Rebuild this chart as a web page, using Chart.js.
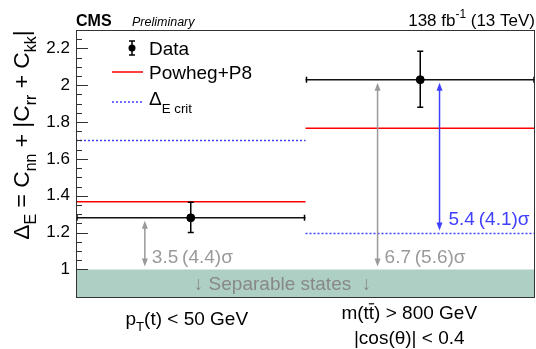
<!DOCTYPE html>
<html>
<head>
<meta charset="utf-8">
<script src="https://cdn.jsdelivr.net/npm/chart.js@4.4.1/dist/chart.umd.min.js"></script>
<style>
  body { margin: 0; background: #fff; }
  canvas { display: block; }
</style>
</head>
<body>
<canvas id="chart" width="536" height="349"></canvas>
<script>
// bins and values
const binEdges = [0, 1, 2];
const binLabels = [['p_{T}(t) < 50 GeV'], ['m(t#bar{t}) > 800 GeV', '|cos(θ)| < 0.4']];
const dataVals = [1.28, 2.03];
const dataErrUp = [0.085, 0.155];
const dataErrDown = [0.08, 0.15];
const powhegVals = [1.367, 1.767];
const critVals = [1.70, 1.195];
const separableLimit = 1.0;
const yTicks = [1, 1.2, 1.4, 1.6, 1.8, 2, 2.2];
const yMin = 0.85, yMax = 2.3;

// significance arrows: x in bin units, from/to in y units
const arrowX = [0.30, 1.314, 1.584];
const arrowFrom = [1.28, 2.03, 2.03];
const arrowTo = [1.0, 1.0, 1.195];
const arrowLabels = ['3.5\u2009(4.4)σ', '6.7\u2009(5.6)σ', '5.4\u2009(4.1)σ'];
const arrowLabelY = [1.07, 1.07, 1.28];

const GRAY = '#9a9a9a';
const BLUE = '#4040ff';
const FONT = '"Liberation Sans", Arial, sans-serif';
const TXT = 19;

Chart.defaults.font.family = FONT;

function stepPoints(vals) {
  const pts = [];
  vals.forEach((v, i) => {
    if (i > 0) pts.push({ x: binEdges[i], y: null });
    pts.push({ x: binEdges[i], y: v }, { x: binEdges[i + 1], y: v });
  });
  return pts;
}
const centers = dataVals.map((v, i) => (binEdges[i] + binEdges[i + 1]) / 2);

function parseRich(s) {
  const out = [];
  const re = /(_\{[^}]*\}|\^\{[^}]*\}|#bar\{[^}]*\})/g;
  let last = 0, m;
  while ((m = re.exec(s))) {
    if (m.index > last) out.push({ t: s.slice(last, m.index), k: 'n' });
    const tok = m[0];
    if (tok[0] === '_') out.push({ t: tok.slice(2, -1), k: 'sub' });
    else if (tok[0] === '^') out.push({ t: tok.slice(2, -1), k: 'sup' });
    else out.push({ t: tok.slice(5, -1), k: 'bar' });
    last = re.lastIndex;
  }
  if (last < s.length) out.push({ t: s.slice(last), k: 'n' });
  return out;
}

function richText(ctx, s, x, y, size, opts) {
  const o = Object.assign({ align: 'left', color: '#000', style: '', subDy: 0.3 }, opts);
  const segs = parseRich(s);
  const font = sz => `${o.style} ${sz}px ${FONT}`;
  let w = 0;
  segs.forEach(sg => {
    sg.size = (sg.k === 'sub' || sg.k === 'sup') ? size * 0.7 : size;
    ctx.font = font(sg.size);
    sg.w = ctx.measureText(sg.t).width;
    w += sg.w;
  });
  let cx = o.align === 'center' ? x - w / 2 : o.align === 'right' ? x - w : x;
  ctx.fillStyle = o.color;
  ctx.strokeStyle = o.color;
  ctx.textAlign = 'left';
  ctx.textBaseline = 'alphabetic';
  segs.forEach(sg => {
    ctx.font = font(sg.size);
    const dy = sg.k === 'sub' ? size * o.subDy : sg.k === 'sup' ? -size * 0.45 : 0;
    ctx.fillText(sg.t, cx, y + dy);
    if (sg.k === 'bar') {
      ctx.lineWidth = 1.2;
      ctx.beginPath();
      ctx.moveTo(cx, y - size * 0.8);
      ctx.lineTo(cx + sg.w, y - size * 0.8);
      ctx.stroke();
    }
    cx += sg.w;
  });
  return w;
}

function arrowHead(ctx, x, y, dir) {
  // dir = 1 points down, -1 points up
  ctx.beginPath();
  ctx.moveTo(x, y);
  ctx.lineTo(x - 3, y - dir * 8);
  ctx.lineTo(x + 3, y - dir * 8);
  ctx.closePath();
  ctx.fill();
}

const decorations = {
  id: 'decorations',
  afterDatasetsDraw(chart) {
    const { ctx, chartArea: a, scales: { x, y } } = chart;
    ctx.save();

    // minor / major ticks pointing inwards
    ctx.strokeStyle = '#333';
    ctx.lineWidth = 1;
    const step = yTicks[1] - yTicks[0];
    for (let v = yTicks[0]; v <= yMax + 1e-6; v += step / 4) {
      const isMajor = yTicks.some(t => Math.abs(t - v) < 1e-6);
      const py = Math.round(y.getPixelForValue(v)) + 0.5;
      ctx.beginPath();
      ctx.moveTo(a.left, py);
      ctx.lineTo(a.left + (isMajor ? 12 : 6), py);
      ctx.stroke();
    }

    // error bars + bin-edge end caps on the data histogram
    ctx.strokeStyle = '#000';
    ctx.fillStyle = '#000';
    ctx.lineWidth = 1.5;
    dataVals.forEach((v, i) => {
      const px = x.getPixelForValue(centers[i]);
      const top = y.getPixelForValue(v + dataErrUp[i]);
      const bot = y.getPixelForValue(v - dataErrDown[i]);
      ctx.beginPath();
      ctx.moveTo(px, top); ctx.lineTo(px, bot);
      ctx.moveTo(px - 3, top); ctx.lineTo(px + 3, top);
      ctx.moveTo(px - 3, bot); ctx.lineTo(px + 3, bot);
      const py = y.getPixelForValue(v);
      [binEdges[i], binEdges[i + 1]].forEach(e => {
        const ex = x.getPixelForValue(e) + (e === binEdges[i] ? 1 : -1);
        ctx.moveTo(ex, py - 3); ctx.lineTo(ex, py + 3);
      });
      ctx.stroke();
    });

    // significance arrows
    arrowX.forEach((xv, i) => {
      const col = i === 2 ? BLUE : GRAY;
      const px = x.getPixelForValue(xv);
      const y1 = y.getPixelForValue(arrowFrom[i]) + 3;
      const y2 = y.getPixelForValue(arrowTo[i]) - 3;
      ctx.strokeStyle = col;
      ctx.fillStyle = col;
      ctx.lineWidth = 1.5;
      ctx.beginPath();
      ctx.moveTo(px, y1 + 4); ctx.lineTo(px, y2 - 4);
      ctx.stroke();
      arrowHead(ctx, px, y1, -1);
      arrowHead(ctx, px, y2, 1);
      richText(ctx, arrowLabels[i], px + (i === 2 ? 9 : 7), y.getPixelForValue(arrowLabelY[i]) + 7, TXT, { color: col });
    });

    // separable region label
    richText(ctx, '↓ Separable states  ↓', x.getPixelForValue(0.9), y.getPixelForValue((yMin + separableLimit) / 2) + 7, TXT, { align: 'center', color: '#888' });

    // frame
    ctx.strokeStyle = '#333';
    ctx.lineWidth = 1;
    ctx.strokeRect(a.left + 0.5, a.top + 0.5, a.right - a.left - 1, a.bottom - a.top);

    // legend
    const lx = a.left + 36;
    ctx.strokeStyle = '#000'; ctx.fillStyle = '#000'; ctx.lineWidth = 1.5;
    ctx.beginPath();
    ctx.moveTo(lx + 20, 41); ctx.lineTo(lx + 20, 55);
    ctx.moveTo(lx + 17, 41); ctx.lineTo(lx + 23, 41);
    ctx.moveTo(lx + 17, 55); ctx.lineTo(lx + 23, 55);
    ctx.stroke();
    ctx.beginPath(); ctx.arc(lx + 20, 48, 3.5, 0, Math.PI * 2); ctx.fill();
    richText(ctx, 'Data', lx + 37, 55, TXT);
    ctx.strokeStyle = '#ff0000';
    ctx.beginPath(); ctx.moveTo(lx, 72); ctx.lineTo(lx + 31, 72); ctx.stroke();
    richText(ctx, 'Powheg+P8', lx + 37, 79, TXT);
    ctx.strokeStyle = BLUE; ctx.setLineDash([2, 2]);
    ctx.beginPath(); ctx.moveTo(lx, 102); ctx.lineTo(lx + 31, 102); ctx.stroke();
    ctx.setLineDash([]);
    richText(ctx, 'Δ_{E crit}', lx + 37, 105, TXT, { subDy: 0.42 });

    // header
    richText(ctx, 'CMS', a.left, 26, 16, { style: 'bold' });
    richText(ctx, 'Preliminary', a.left + 56, 26, 12.5, { style: 'italic' });
    richText(ctx, '138 fb^{-1} (13 TeV)', 535, 26, 17, { align: 'right' });

    // bin labels under the axis
    richText(ctx, binLabels[0][0], x.getPixelForValue(centers[0]) - 4, 325, TXT, { align: 'center' });
    richText(ctx, binLabels[1][0], x.getPixelForValue(centers[1]) - 11, 319, TXT, { align: 'center' });
    richText(ctx, binLabels[1][1], x.getPixelForValue(centers[1]) - 11, 344, TXT, { align: 'center' });

    // y title
    ctx.translate(29, (a.top + 238) / 2 + 1);
    ctx.rotate(-Math.PI / 2);
    richText(ctx, 'Δ_{E} = C_{nn} + |C_{rr} + C_{kk}|', 0, 0, 22.8, { align: 'center' });

    ctx.restore();
  }
};

new Chart(document.getElementById('chart'), {
  type: 'line',
  data: {
    datasets: [
      {
        label: 'separable',
        data: [{ x: binEdges[0], y: separableLimit }, { x: binEdges[binEdges.length - 1], y: separableLimit }],
        fill: 'start',
        backgroundColor: '#aecfc4',
        borderWidth: 0,
        pointRadius: 0,
        order: 10
      },
      {
        label: 'Powheg+P8',
        data: stepPoints(powhegVals),
        borderColor: '#ff0000',
        borderWidth: 1.5,
        pointRadius: 0,
        spanGaps: false,
        order: 3
      },
      {
        label: 'crit',
        data: stepPoints(critVals),
        borderColor: BLUE,
        borderWidth: 1.5,
        borderDash: [2, 2],
        pointRadius: 0,
        spanGaps: false,
        order: 4
      },
      {
        label: 'Data line',
        data: stepPoints(dataVals),
        borderColor: '#111',
        borderWidth: 1.5,
        pointRadius: 0,
        spanGaps: false,
        order: 2
      },
      {
        label: 'Data',
        data: dataVals.map((v, i) => ({ x: centers[i], y: v })),
        showLine: false,
        pointRadius: 4,
        pointBackgroundColor: '#000',
        pointBorderColor: '#000',
        order: 1
      }
    ]
  },
  options: {
    responsive: false,
    animation: false,
    layout: { autoPadding: false, padding: { top: 30, bottom: 52, left: 0, right: 1 } },
    plugins: { legend: { display: false }, tooltip: { enabled: false } },
    scales: {
      x: { type: 'linear', min: binEdges[0], max: binEdges[binEdges.length - 1], display: false },
      y: {
        min: yMin,
        max: yMax,
        afterBuildTicks: s => { s.ticks = yTicks.map(v => ({ value: v })); },
        afterFit: s => { s.width = 76; },
        grid: { display: false, drawTicks: false },
        border: { display: false },
        ticks: { color: '#000', font: { size: 17 }, padding: 6, callback: v => String(+v.toFixed(1)) }
      }
    }
  },
  plugins: [decorations]
});
</script>
</body>
</html>
